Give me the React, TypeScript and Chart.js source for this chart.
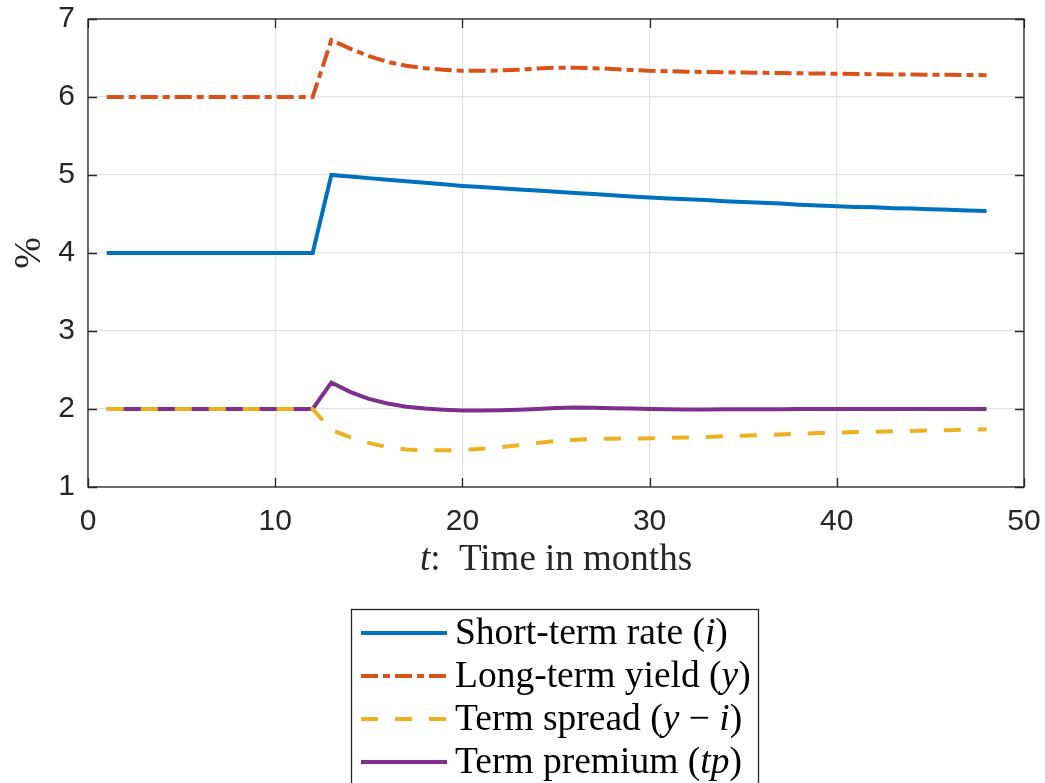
import React, { useEffect, useRef } from "react";
import { Chart, registerables } from "chart.js";

Chart.register(...registerables);

// ---- data ----
const months = [
  1, 2, 3, 4, 5, 6, 7, 8, 9, 10, 11, 12, 13, 14, 15, 16, 17, 18, 19, 20, 21, 22, 23, 24,
  25, 26, 27, 28, 29, 30, 31, 32, 33, 34, 35, 36, 37, 38, 39, 40, 41, 42, 43, 44, 45, 46, 47, 48,
];

const shortRate = [
  4, 4, 4, 4, 4, 4, 4, 4, 4, 4, 4, 4,
  5.0, 4.98, 4.96, 4.94, 4.92, 4.9, 4.88, 4.86, 4.845, 4.83, 4.815, 4.8,
  4.785, 4.77, 4.755, 4.74, 4.725, 4.71, 4.7, 4.69, 4.68, 4.665, 4.655, 4.645,
  4.635, 4.62, 4.61, 4.6, 4.59, 4.585, 4.575, 4.57, 4.56, 4.555, 4.545, 4.54,
];

const longYield = [
  6, 6, 6, 6, 6, 6, 6, 6, 6, 6, 6, 6,
  6.73, 6.62, 6.525, 6.45, 6.4, 6.37, 6.35, 6.335, 6.335, 6.34, 6.35, 6.365,
  6.375, 6.375, 6.37, 6.36, 6.347, 6.335, 6.33, 6.325, 6.32, 6.317, 6.313, 6.31,
  6.307, 6.304, 6.301, 6.298, 6.295, 6.292, 6.29, 6.288, 6.286, 6.284, 6.282, 6.28,
];

const termSpread = [
  2, 2, 2, 2, 2, 2, 2, 2, 2, 2, 2, 2,
  1.73, 1.64, 1.565, 1.51, 1.48, 1.47, 1.47, 1.475, 1.49, 1.51, 1.535, 1.565,
  1.59, 1.605, 1.615, 1.62, 1.622, 1.625, 1.63, 1.635, 1.64, 1.652, 1.658, 1.665,
  1.672, 1.684, 1.691, 1.698, 1.705, 1.707, 1.715, 1.718, 1.726, 1.729, 1.737, 1.74,
];

const termPremium = [
  2, 2, 2, 2, 2, 2, 2, 2, 2, 2, 2, 2,
  2.34, 2.22, 2.13, 2.07, 2.03, 2.005, 1.99, 1.98, 1.98, 1.985, 1.99, 2.0,
  2.012, 2.018, 2.015, 2.01, 2.005, 2.0, 1.997, 1.995, 1.995, 1.996, 1.997, 1.998,
  1.998, 1.999, 1.999, 2.0, 2.0, 2.0, 2.0, 2.0, 2.0, 2.0, 2.0, 2.0,
];

const xTicks = [0, 10, 20, 30, 40, 50];
const yTicks = [1, 2, 3, 4, 5, 6, 7];

type Seg = [string, boolean]; // text, italic

const legendLabels: Seg[][] = [
  [["Short-term rate (", false], ["i", true], [")", false]],
  [["Long-term yield (", false], ["y", true], [")", false]],
  [["Term spread (", false], ["y", true], [" \u2212 ", false], ["i", true], [")", false]],
  [["Term premium (", false], ["tp", true], [")", false]],
];
const xTitle: Seg[] = [["t", true], [":  Time in months", false]];
const yTitle = "%";

const COLORS = ["#0072BD", "#D95319", "#EDB120", "#7E2F8E"];
const DASHES: number[][] = [[], [17, 5, 7, 5], [17, 17], []];
const AXIS = "#262626";
const SERIF = "'Liberation Serif', 'Times New Roman', serif";
const SANS = "'Liberation Sans', Arial, sans-serif";

function toPoints(vals: number[]) {
  return months.map((m, k) => ({ x: m, y: vals[k] }));
}

function drawRich(ctx: CanvasRenderingContext2D, segs: Seg[], x: number, y: number, size: number, align: "left" | "center") {
  const fontFor = (it: boolean) => `${it ? "italic " : ""}${size}px ${SERIF}`;
  let total = 0;
  for (const [t, it] of segs) {
    ctx.font = fontFor(it);
    total += ctx.measureText(t).width;
  }
  let cx = align === "center" ? x - total / 2 : x;
  ctx.textAlign = "left";
  ctx.textBaseline = "alphabetic";
  for (const [t, it] of segs) {
    ctx.font = fontFor(it);
    ctx.fillText(t, cx, y);
    cx += ctx.measureText(t).width;
  }
}

const framePlugin = {
  id: "frame",
  afterDraw(chart: any) {
    const { ctx, chartArea: a, scales } = chart;
    const xs = scales.x;
    const ys = scales.y;
    ctx.save();
    ctx.strokeStyle = AXIS;
    ctx.lineWidth = 1.3;
    ctx.setLineDash([]);
    ctx.strokeRect(a.left, a.top, a.right - a.left, a.bottom - a.top);
    const tl = 9;
    ctx.beginPath();
    for (const v of xTicks) {
      const px = Math.round(xs.getPixelForValue(v)) + 0.5;
      ctx.moveTo(px, a.bottom);
      ctx.lineTo(px, a.bottom - tl);
      ctx.moveTo(px, a.top);
      ctx.lineTo(px, a.top + tl);
    }
    for (const v of yTicks) {
      const py = Math.round(ys.getPixelForValue(v)) + 0.5;
      ctx.moveTo(a.left, py);
      ctx.lineTo(a.left + tl, py);
      ctx.moveTo(a.right, py);
      ctx.lineTo(a.right - tl, py);
    }
    ctx.stroke();

    ctx.fillStyle = "#262626";
    drawRich(ctx, xTitle, (a.left + a.right) / 2, 570, 37, "center");
    ctx.save();
    ctx.translate(30, (a.top + a.bottom) / 2);
    ctx.rotate(-Math.PI / 2);
    ctx.font = `38px ${SERIF}`;
    ctx.textAlign = "center";
    ctx.textBaseline = "middle";
    ctx.fillText(yTitle, 0, 0);
    ctx.restore();

    const bx = 351.5, by = 609.5, bw = 407, bh = 200;
    ctx.fillStyle = "#ffffff";
    ctx.fillRect(bx, by, bw, bh);
    ctx.strokeStyle = AXIS;
    ctx.lineWidth = 1.3;
    ctx.strokeRect(bx, by, bw, bh);
    const rows = [633, 676, 719, 762];
    chart.data.datasets.forEach((ds: any, k: number) => {
      const ry = rows[k];
      ctx.beginPath();
      ctx.strokeStyle = ds.borderColor;
      ctx.lineWidth = ds.borderWidth;
      ctx.setLineDash(ds.borderDash || []);
      ctx.moveTo(361, ry);
      ctx.lineTo(447, ry);
      ctx.stroke();
      ctx.setLineDash([]);
      ctx.fillStyle = "#000000";
      drawRich(ctx, legendLabels[k], 455, ry + 11, 37.5, "left");
    });
    ctx.restore();
  },
};

export default function App() {
  const ref = useRef<HTMLCanvasElement>(null);
  useEffect(() => {
    document.body.style.margin = "0";
    const canvas = ref.current;
    if (!canvas) return;
    const series = [shortRate, longYield, termSpread, termPremium];
    const chart = new Chart(canvas, {
      type: "line",
      data: {
        datasets: series.map((vals, k) => ({
          label: legendLabels[k].map((s) => s[0]).join(""),
          data: toPoints(vals),
          borderColor: COLORS[k],
          backgroundColor: COLORS[k],
          borderWidth: 4,
          borderDash: DASHES[k],
          pointRadius: 0,
          tension: 0,
          fill: false,
        })),
      },
      options: {
        responsive: false,
        animation: false,
        events: [],
        layout: { padding: { top: 19, right: 21, left: 0, bottom: 0 } },
        plugins: { legend: { display: false }, tooltip: { enabled: false } },
        scales: {
          x: {
            type: "linear",
            min: 0,
            max: 50,
            ticks: { stepSize: 10, color: AXIS, font: { family: SANS, size: 30 }, padding: 17, maxRotation: 0 },
            grid: { color: "#e2e2e2", lineWidth: 1.2, drawTicks: false },
            border: { display: false },
            afterFit: (s: any) => {
              s.height = 296;
              s.paddingLeft = 0;
              s.paddingRight = 0;
            },
          },
          y: {
            type: "linear",
            min: 1,
            max: 7,
            ticks: { stepSize: 1, color: AXIS, font: { family: SANS, size: 30 }, padding: 13 },
            grid: { color: "#e2e2e2", lineWidth: 1.2, drawTicks: false },
            border: { display: false },
            afterFit: (s: any) => {
              s.width = 88;
              s.paddingTop = 0;
              s.paddingBottom = 0;
            },
          },
        },
      },
      plugins: [framePlugin],
    });
    return () => chart.destroy();
  }, []);
  return (
    <div style={{ position: "absolute", left: 0, top: 0, width: 1045, height: 783, background: "#fff" }}>
      <canvas ref={ref} width={1045} height={783} style={{ display: "block", width: 1045, height: 783 }} />
    </div>
  );
}
